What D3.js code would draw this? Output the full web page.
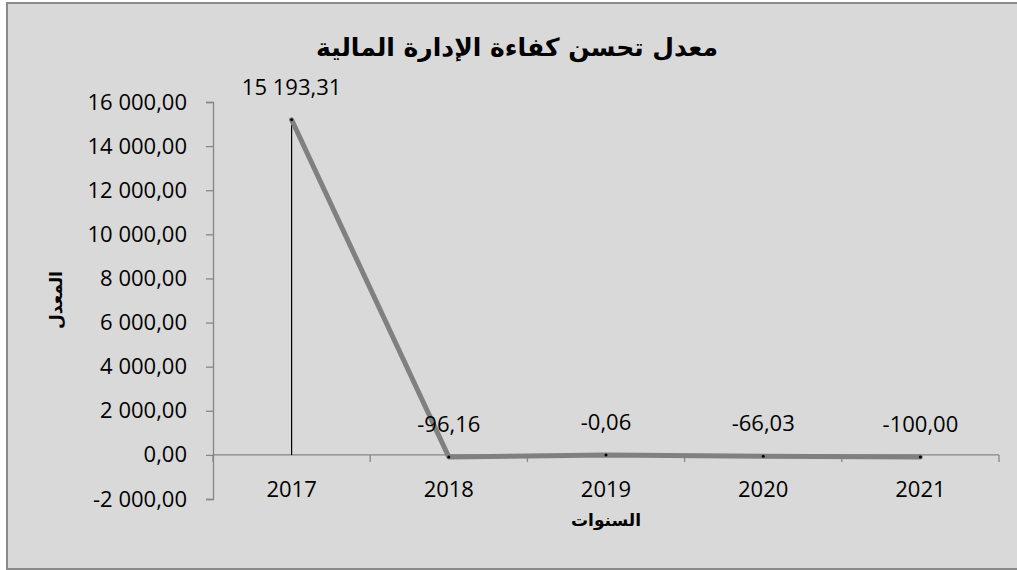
<!DOCTYPE html>
<html>
<head>
<meta charset="utf-8">
<script src="https://cdn.jsdelivr.net/npm/d3@7"></script>
<style>
  html, body { margin: 0; padding: 0; background: #ffffff; }
  svg { display: block; }
</style>
</head>
<body>
<svg id="chart" width="1017" height="570"></svg>
<script>
// Chart data
const years = ["2017", "2018", "2019", "2020", "2021"];
const rates = [15193.31, -96.16, -0.06, -66.03, -100.00];
const rateLabels = ["15 193,31", "-96,16", "-0,06", "-66,03", "-100,00"];
const yTicks = [-2000, 0, 2000, 4000, 6000, 8000, 10000, 12000, 14000, 16000];

const chartTitle = "معدل تحسن كفاءة الإدارة المالية";
const xTitle = "السنوات";
const yTitle = "المعدل";

const svg = d3.select("#chart");
const W = 1017, H = 570;
const numFont = "'Open Sans', 'Liberation Sans', sans-serif";
const numSize = 22;

// Chart area background and frame
svg.append("rect")
  .attr("x", 7).attr("y", 3).attr("width", W).attr("height", 566)
  .attr("fill", "#d9d9d9").attr("stroke", "#8a8a8a").attr("stroke-width", 2);

const plot = { left: 213, right: 999, top: 102, bottom: 499 };

const x = d3.scaleBand().domain(years).range([plot.left, plot.right]).padding(0);
const y = d3.scaleLinear().domain([-2000, 16000]).range([plot.bottom, plot.top]);

// "16 000,00" style: space thousands, comma decimals, ASCII hyphen for minus
const fmt = d => {
  const s = d3.format(",.2f")(Math.abs(d));
  return (d < 0 ? "-" : "") + s.replace(/,/g, " ").replace(".", ",");
};

// Y axis
const yAxis = svg.append("g").attr("transform", `translate(${plot.left},0)`)
  .call(d3.axisLeft(y).tickValues(yTicks).tickSize(7).tickPadding(19).tickFormat(fmt));
yAxis.select(".domain").attr("stroke", "#868686").attr("stroke-width", 1.3);
yAxis.selectAll(".tick line").attr("stroke", "#868686").attr("stroke-width", 1.3);
yAxis.selectAll(".tick text")
  .attr("font-family", numFont)
  .attr("font-size", numSize).attr("fill", "#000");

// X axis at zero, with ticks between categories
const xAxisG = svg.append("g").attr("transform", `translate(0,${y(0)})`);
xAxisG.append("line")
  .attr("x1", plot.left).attr("x2", plot.right)
  .attr("stroke", "#868686").attr("stroke-width", 1.3);
const boundaries = years.map(d => x(d)).concat([x(years[years.length - 1]) + x.bandwidth()]);
xAxisG.selectAll("line.tk").data(boundaries).enter().append("line")
  .attr("class", "tk")
  .attr("x1", d => d).attr("x2", d => d).attr("y1", 0).attr("y2", 7)
  .attr("stroke", "#868686").attr("stroke-width", 1.3);

// Category labels below the plot
svg.append("g").selectAll("text").data(years).enter().append("text")
  .attr("x", d => x(d) + x.bandwidth() / 2)
  .attr("y", y(0) + 42)
  .attr("text-anchor", "middle")
  .attr("font-family", numFont)
  .attr("font-size", numSize).attr("fill", "#000")
  .text(d => d);

const cx = d => x(d) + x.bandwidth() / 2;

// Drop lines from points to axis
svg.append("g").selectAll("line").data(years).enter().append("line")
  .attr("x1", cx).attr("x2", cx)
  .attr("y1", (d, i) => y(rates[i])).attr("y2", y(0))
  .attr("stroke", "#000").attr("stroke-width", 1.2);

// Series line
const line = d3.line().x(d => cx(d.year)).y(d => y(d.value));
const pts = years.map((d, i) => ({ year: d, value: rates[i] }));
svg.append("path").datum(pts)
  .attr("d", line)
  .attr("fill", "none").attr("stroke", "#808080").attr("stroke-width", 5)
  .attr("stroke-linejoin", "round").attr("stroke-linecap", "round");

// Small point markers
svg.append("g").selectAll("circle").data(pts).enter().append("circle")
  .attr("cx", d => cx(d.year)).attr("cy", d => y(d.value)).attr("r", 1.5)
  .attr("fill", "#000");

// Value labels
svg.append("g").selectAll("text").data(pts).enter().append("text")
  .attr("x", d => cx(d.year))
  .attr("y", d => y(d.value) - 25)
  .attr("text-anchor", "middle")
  .attr("font-family", numFont)
  .attr("font-size", numSize).attr("fill", "#000")
  .text((d, i) => rateLabels[i]);

// Title
svg.append("text")
  .attr("x", 517).attr("y", 56)
  .attr("text-anchor", "middle")
  .attr("font-family", "'DejaVu Sans', sans-serif")
  .attr("font-weight", "bold").attr("font-size", 25).attr("fill", "#000")
  .attr("direction", "rtl")
  .text(chartTitle);

// Axis titles
svg.append("text")
  .attr("x", (plot.left + plot.right) / 2).attr("y", 526)
  .attr("text-anchor", "middle")
  .attr("font-family", "'DejaVu Sans', sans-serif")
  .attr("font-weight", "bold").attr("font-size", 17).attr("fill", "#000")
  .attr("direction", "rtl")
  .text(xTitle);

svg.append("text")
  .attr("transform", "translate(62,300) rotate(-90)")
  .attr("text-anchor", "middle")
  .attr("font-family", "'DejaVu Sans', sans-serif")
  .attr("font-weight", "bold").attr("font-size", 17).attr("fill", "#000")
  .attr("direction", "rtl")
  .text(yTitle);
</script>
</body>
</html>
